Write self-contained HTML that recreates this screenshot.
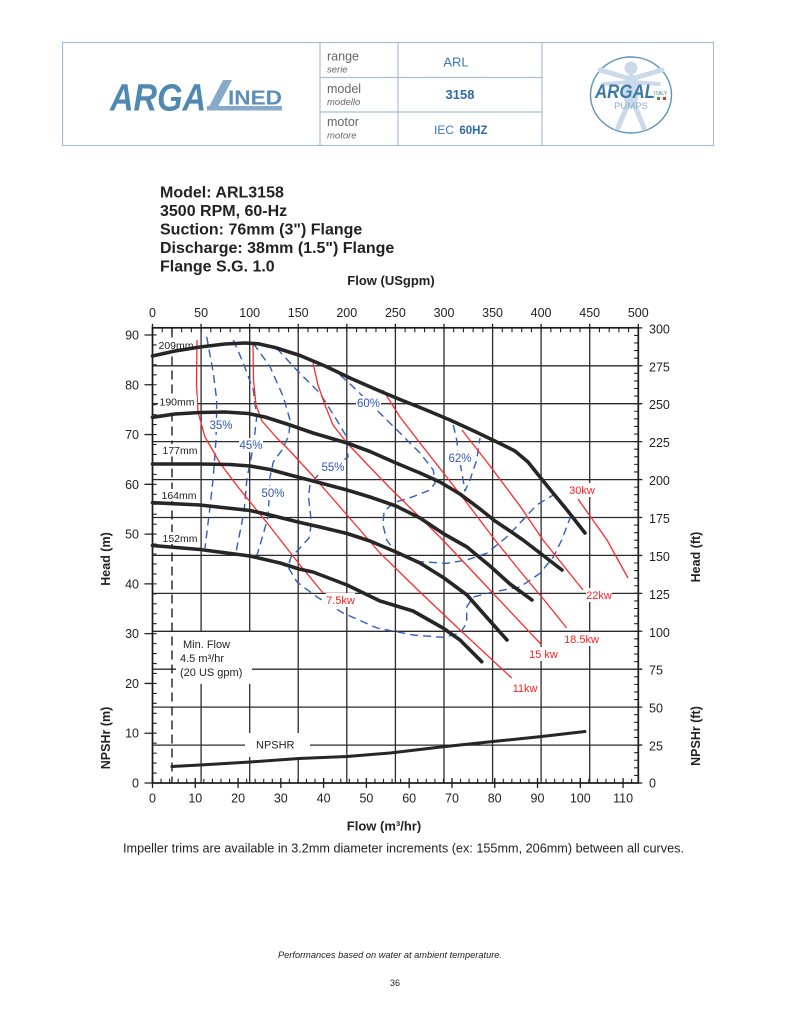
<!DOCTYPE html>
<html><head><meta charset="utf-8"><style>
html,body{margin:0;padding:0;background:#fff;}
svg{display:block;font-family:"Liberation Sans",Arial,sans-serif;}
</style></head><body>
<svg width="791" height="1024" viewBox="0 0 791 1024" xmlns="http://www.w3.org/2000/svg">
<rect width="791" height="1024" fill="#fff"/>
<!-- HEADER -->
<g stroke="#a9bfd0" stroke-width="1.2" fill="none">
<rect x="62.5" y="42.5" width="651" height="103"/>
<line x1="320" y1="42.5" x2="320" y2="145.5"/>
<line x1="398" y1="42.5" x2="398" y2="145.5"/>
<line x1="542" y1="42.5" x2="542" y2="145.5"/>
<line x1="320" y1="77.5" x2="542" y2="77.5"/>
<line x1="320" y1="112" x2="542" y2="112"/>
</g>
<!-- left logo -->
<text x="110" y="110.5" font-size="38" font-weight="bold" font-style="italic" fill="#4f88b0" textLength="96" lengthAdjust="spacingAndGlyphs">ARGA</text>
<polygon points="207,110.5 216,110.5 232,80 223,80" fill="#86aac8"/>
<rect x="207" y="106" width="75" height="4.5" fill="#86aac8"/>
<text x="228" y="104.5" font-size="20" font-weight="bold" fill="#5a8eb8" textLength="54" lengthAdjust="spacingAndGlyphs">INED</text>
<!-- label column -->
<g fill="#666">
<text x="327" y="60.5" font-size="12.5">range</text>
<text x="327" y="72.5" font-size="9.5" font-style="italic">serie</text>
<text x="327" y="93" font-size="12.5">model</text>
<text x="327" y="105" font-size="9.5" font-style="italic">modello</text>
<text x="327" y="126" font-size="12.5">motor</text>
<text x="327" y="138.5" font-size="9.5" font-style="italic">motore</text>
</g>
<text x="456" y="66.5" font-size="13" fill="#3d7ab8" text-anchor="middle">ARL</text>
<text x="460" y="99" font-size="13" font-weight="bold" fill="#2e6aa8" text-anchor="middle">3158</text>
<text x="434" y="134" font-size="12" fill="#3d7ab8">IEC <tspan font-weight="bold" font-size="11.5" fill="#2e6aa8" dx="2">60HZ</tspan></text>
<!-- right logo -->
<ellipse cx="631" cy="95" rx="40.5" ry="38" fill="#fff" stroke="#5b93bd" stroke-width="1.4"/>
<g fill="#cbdaea" stroke="#cbdaea">
<circle cx="631" cy="68" r="6.5" stroke="none"/>
<ellipse cx="631" cy="91" rx="8" ry="17" stroke="none"/>
<line x1="631" y1="79" x2="600" y2="70" stroke-width="5" stroke-linecap="round"/>
<line x1="631" y1="79" x2="662" y2="70" stroke-width="5" stroke-linecap="round"/>
<line x1="631" y1="82" x2="603" y2="84" stroke-width="4" stroke-linecap="round"/>
<line x1="631" y1="82" x2="659" y2="84" stroke-width="4" stroke-linecap="round"/>
<line x1="628" y1="104" x2="618" y2="128" stroke-width="5" stroke-linecap="round"/>
<line x1="634" y1="104" x2="644" y2="128" stroke-width="5" stroke-linecap="round"/>
</g>
<text x="595" y="98" font-size="19" font-weight="bold" font-style="italic" fill="#3b7aa3" textLength="60" lengthAdjust="spacingAndGlyphs">ARGAL</text>
<text x="654" y="95" font-size="5" fill="#3b7aa3">ITALY</text>
<rect x="657" y="97" width="3" height="3" fill="#3a9a3a"/><rect x="660" y="97" width="3" height="3" fill="#eee"/><rect x="663" y="97" width="3" height="3" fill="#d33"/>
<text x="631" y="109" font-size="9.5" fill="#8fb0cc" text-anchor="middle">PUMPS</text>

<!-- TITLE -->
<g font-size="16" font-weight="bold" fill="#222">
<text x="160" y="197.4">Model: ARL3158</text>
<text x="160" y="216">3500 RPM, 60-Hz</text>
<text x="160" y="234.6">Suction: 76mm (3") Flange</text>
<text x="160" y="253">Discharge: 38mm (1.5") Flange</text>
<text x="160" y="271.4">Flange S.G. 1.0</text>
</g>
<text x="391" y="285" font-size="13" font-weight="bold" fill="#222" text-anchor="middle">Flow (USgpm)</text>

<!-- GRID -->
<g stroke="#2b2b2b" stroke-width="1.3">
<line x1="201.1" y1="327.8" x2="201.1" y2="783"/>
<line x1="249.7" y1="327.8" x2="249.7" y2="783"/>
<line x1="298.2" y1="327.8" x2="298.2" y2="783"/>
<line x1="346.8" y1="327.8" x2="346.8" y2="783"/>
<line x1="395.4" y1="327.8" x2="395.4" y2="783"/>
<line x1="444" y1="327.8" x2="444" y2="783"/>
<line x1="492.6" y1="327.8" x2="492.6" y2="783"/>
<line x1="541.1" y1="327.8" x2="541.1" y2="783"/>
<line x1="589.7" y1="327.8" x2="589.7" y2="783"/>
<line x1="152.5" y1="745.1" x2="638.3" y2="745.1"/>
<line x1="152.5" y1="707.1" x2="638.3" y2="707.1"/>
<line x1="152.5" y1="669.2" x2="638.3" y2="669.2"/>
<line x1="152.5" y1="631.3" x2="638.3" y2="631.3"/>
<line x1="152.5" y1="593.4" x2="638.3" y2="593.4"/>
<line x1="152.5" y1="555.4" x2="638.3" y2="555.4"/>
<line x1="152.5" y1="517.5" x2="638.3" y2="517.5"/>
<line x1="152.5" y1="479.6" x2="638.3" y2="479.6"/>
<line x1="152.5" y1="441.6" x2="638.3" y2="441.6"/>
<line x1="152.5" y1="403.7" x2="638.3" y2="403.7"/>
<line x1="152.5" y1="365.8" x2="638.3" y2="365.8"/>
</g>
<!-- ticks -->
<g stroke="#222" fill="none">
<line x1="151.95" y1="330" x2="638.8" y2="330" stroke-width="4.4" stroke-dasharray="1.1 8.616"/>
<line x1="151.85" y1="325.8" x2="639" y2="325.8" stroke-width="4" stroke-dasharray="1.3 47.28"/>
<line x1="154.5" y1="783.55" x2="154.5" y2="327.8" stroke-width="4.4" stroke-dasharray="1.1 8.856"/>
<line x1="148.5" y1="783.65" x2="148.5" y2="327.8" stroke-width="8" stroke-dasharray="1.3 48.48"/>
<line x1="636.3" y1="783.55" x2="636.3" y2="327.8" stroke-width="4.4" stroke-dasharray="1.1 6.4865"/>
<line x1="640.3" y1="783.65" x2="640.3" y2="326" stroke-width="4" stroke-dasharray="1.3 36.63"/>
<line x1="151.95" y1="781" x2="638" y2="781" stroke-width="4.4" stroke-dasharray="1.1 7.456"/>
<line x1="151.85" y1="783" x2="638" y2="783" stroke-width="10" stroke-dasharray="1.3 41.48"/>
</g>
<rect x="152.5" y="327.8" width="485.8" height="455.2" fill="none" stroke="#1a1a1a" stroke-width="1.7"/>

<!-- min flow dashed -->
<line x1="172" y1="328.5" x2="172" y2="782" stroke="#111" stroke-width="1.3" stroke-dasharray="9 5"/>

<!-- efficiency curves (blue dashed) -->
<g fill="none" stroke="#2f5fc0" stroke-width="1.4" stroke-dasharray="8 5" stroke-linejoin="round">
<polyline points="206.7,336.7 213.3,373 216.7,400 216.5,420 216,440 213.3,477 210,507 205,548"/>
<polyline points="233.3,340 243.3,363 253.3,390 256.7,417 253.3,447 247,478 244,512 236,552"/>
<polyline points="253.3,343.3 270,366.7 283.3,396.7 290,420 289,435 282,450 273.3,462 270,477 269,500 268,517 263,535 257,555"/>
<polyline points="276.7,348.3 296.7,370 320,393.3 336.7,420 346.7,437 348,457 335,466 320,473 310,484 308.5,497 311.5,523 309,538 300,548 291,557 288,567 297,582 317,597 343,613 377,628 413,635 443,637.3 460,633.3 466.7,623 466.7,607 473.3,597 493,592 520,587 540,573.3 553.3,557 561.7,540 572,513"/>
<polyline points="340,375 353,386.7 380,413.3 400,433 420,453 433.3,470 435,483 430,490 413,496.7 393,503 384,512 383,525 386.7,540 396.7,553.3 420,561.7 446.7,563.3 466.7,560 486.7,553.3 506.7,537 520,523 536.7,505 553.3,495"/>
<polyline points="453.3,425 456.7,440 459,458 461.7,472 465,491 470,480 476.7,460 480,438"/>
</g>
<!-- power lines (red) -->
<g fill="none" stroke="#ff2a2a" stroke-width="1.3" stroke-linejoin="round">
<polyline points="197,340 196.5,385 198,412 205,437 220,463 238,487 268,524 300,565 323,593"/>
<polyline points="253,343 253.5,380 256,405 262,421 276,437 290,451 313,476 347,515 380,553 420,592 460,630 511.7,678"/>
<polyline points="313,363 318,385 325,405 333,425 347,443 366,463 390,488 440,537 490,590 541.7,645"/>
<polyline points="383,390 400,417 420,443 446.7,477 470,507 495,540 520,571 545,601 566.7,628"/>
<polyline points="462,430 490,466 520,506 543,540 583,590"/>
<polyline points="578,499 607,540 628,578"/>
</g>

<!-- white label boxes -->
<g fill="#fff">
<rect x="157" y="339" width="37" height="11.5"/>
<rect x="158" y="395.5" width="39" height="12.5"/>
<rect x="161" y="444" width="38" height="12.5"/>
<rect x="160" y="489" width="38" height="12"/>
<rect x="161" y="532" width="38" height="12"/>
<rect x="176" y="632" width="76" height="52"/>
<rect x="245" y="733" width="65" height="24"/>
<rect x="209" y="418" width="24" height="14"/>
<rect x="239" y="438" width="24" height="14"/>
<rect x="261" y="486" width="24" height="14"/>
<rect x="321" y="460" width="24" height="14"/>
<rect x="356" y="396" width="25" height="14"/>
<rect x="448" y="451" width="24" height="14"/>
<rect x="326" y="593" width="29" height="14"/>
<rect x="512" y="681" width="26" height="14"/>
<rect x="529" y="647" width="29" height="14"/>
<rect x="563" y="632" width="37" height="14"/>
<rect x="586" y="588" width="26" height="14"/>
<rect x="569" y="483" width="26" height="14"/>
</g>

<!-- H-Q curves -->
<g fill="none" stroke="#262626" stroke-width="3.6" stroke-linejoin="round" stroke-linecap="round">
<polyline points="152.5,356 175,351 200,347 225,344 245,343 258,343.8 275,347.5 300,355.5 325,366 350,378 375,389 400,399.5 425,409.5 450,420 475,431.5 500,443.5 515,451 528,462 540,477 553,493 567,510 585,533"/>
<polyline points="152.5,417.3 175,414 200,412.5 225,412 248,413.5 265,417 290,425 313,433 330,438 347,443 370,451.5 396,463 420,473 440,482 460,494 480,509 495,521 510,531 523,540 540,553 562,570"/>
<polyline points="152.5,464 200,464 230,464.5 250,466 270,469.5 290,475 313,481 347,490 370,497 396,506 420,518 444,534 467,547 490,566 510,584 532,600"/>
<polyline points="152.5,502.7 200,505 250,510.5 270,515 298,522 320,527 347,533.5 370,541 396,552 420,563 444,578 467,595 490,621 507,640"/>
<polyline points="152.5,545.5 200,549.5 250,556 280,563 299,569 313,572 347,585 380,601 413,611 443,628 460,640 481.7,661.7"/>
<polyline points="172,766.5 200,765 250,762 299,758.5 347,756.5 390,753 443,746.7 493,741.5 541.7,736.5 585,731.5" stroke-width="3"/>
</g>

<!-- curve labels -->
<g font-size="10.5" fill="#222">
<text x="158.5" y="349">209mm</text>
<text x="159.5" y="405.5">190mm</text>
<text x="162.5" y="454">177mm</text>
<text x="161.5" y="499">164mm</text>
<text x="162.5" y="542">152mm</text>
</g>
<g font-size="11" fill="#222">
<text x="183" y="648">Min. Flow</text>
<text x="180" y="662">4.5 m³/hr</text>
<text x="180" y="676">(20 US gpm)</text>
<text x="256" y="748.5">NPSHR</text>
</g>
<g font-size="11.5" fill="#2f57b3" text-anchor="middle">
<text x="221" y="429">35%</text>
<text x="251" y="449">45%</text>
<text x="273" y="497">50%</text>
<text x="333" y="471">55%</text>
<text x="368.5" y="407">60%</text>
<text x="460" y="462">62%</text>
</g>
<g font-size="11" fill="#ff2020" text-anchor="middle">
<text x="340.5" y="604">7.5kw</text>
<text x="525" y="692">11kw</text>
<text x="543.5" y="658">15 kw</text>
<text x="581.5" y="643">18.5kw</text>
<text x="599" y="599">22kw</text>
<text x="582" y="494">30kw</text>
</g>

<!-- axis tick labels -->
<g font-size="12.5" fill="#222" text-anchor="middle">
<text x="152.5" y="317">0</text><text x="201.1" y="317">50</text><text x="249.7" y="317">100</text>
<text x="298.2" y="317">150</text><text x="346.8" y="317">200</text><text x="395.4" y="317">250</text>
<text x="444" y="317">300</text><text x="492.6" y="317">350</text><text x="541.1" y="317">400</text>
<text x="589.7" y="317">450</text><text x="638.3" y="317">500</text>
<text x="152.5" y="802.5">0</text><text x="195.3" y="802.5">10</text><text x="238.1" y="802.5">20</text>
<text x="280.8" y="802.5">30</text><text x="323.6" y="802.5">40</text><text x="366.4" y="802.5">50</text>
<text x="409.2" y="802.5">60</text><text x="452" y="802.5">70</text><text x="494.7" y="802.5">80</text>
<text x="537.5" y="802.5">90</text><text x="580.3" y="802.5">100</text><text x="623.1" y="802.5">110</text>
</g>
<g font-size="12.5" fill="#222" text-anchor="end">
<text x="139" y="787.5">0</text><text x="139" y="737.7">10</text><text x="139" y="687.9">20</text>
<text x="139" y="638.2">30</text><text x="139" y="588.4">40</text><text x="139" y="538.6">50</text>
<text x="139" y="488.8">60</text><text x="139" y="439">70</text><text x="139" y="389.3">80</text>
<text x="139" y="339.5">90</text>
</g>
<g font-size="12.5" fill="#222">
<text x="649" y="787.5">0</text><text x="649" y="750.6">25</text><text x="649" y="712.6">50</text>
<text x="649" y="674.7">75</text><text x="649" y="636.8">100</text><text x="649" y="598.9">125</text>
<text x="649" y="560.9">150</text><text x="649" y="523">175</text><text x="649" y="485.1">200</text>
<text x="649" y="447.1">225</text><text x="649" y="409.2">250</text><text x="649" y="371.3">275</text>
<text x="649" y="333.3">300</text>
</g>

<!-- axis titles -->
<g font-size="12.5" font-weight="bold" fill="#222" text-anchor="middle">
<text transform="translate(110,559) rotate(-90)">Head (m)</text>
<text transform="translate(110,738) rotate(-90)">NPSHr (m)</text>
<text transform="translate(700,557) rotate(-90)">Head (ft)</text>
<text transform="translate(700,736) rotate(-90)">NPSHr (ft)</text>
</g>
<text x="384" y="830.5" font-size="13" font-weight="bold" fill="#222" text-anchor="middle">Flow (m³/hr)</text>
<text x="123" y="852.5" font-size="12.5" fill="#222" textLength="561" lengthAdjust="spacingAndGlyphs">Impeller trims are available in 3.2mm diameter increments (ex: 155mm, 206mm) between all curves.</text>

<!-- footer -->
<text x="278" y="958" font-size="9.5" font-style="italic" fill="#222" textLength="224" lengthAdjust="spacingAndGlyphs">Performances based on water at ambient temperature.</text>
<text x="395" y="986" font-size="9" fill="#222" text-anchor="middle">36</text>
</svg>
</body></html>
